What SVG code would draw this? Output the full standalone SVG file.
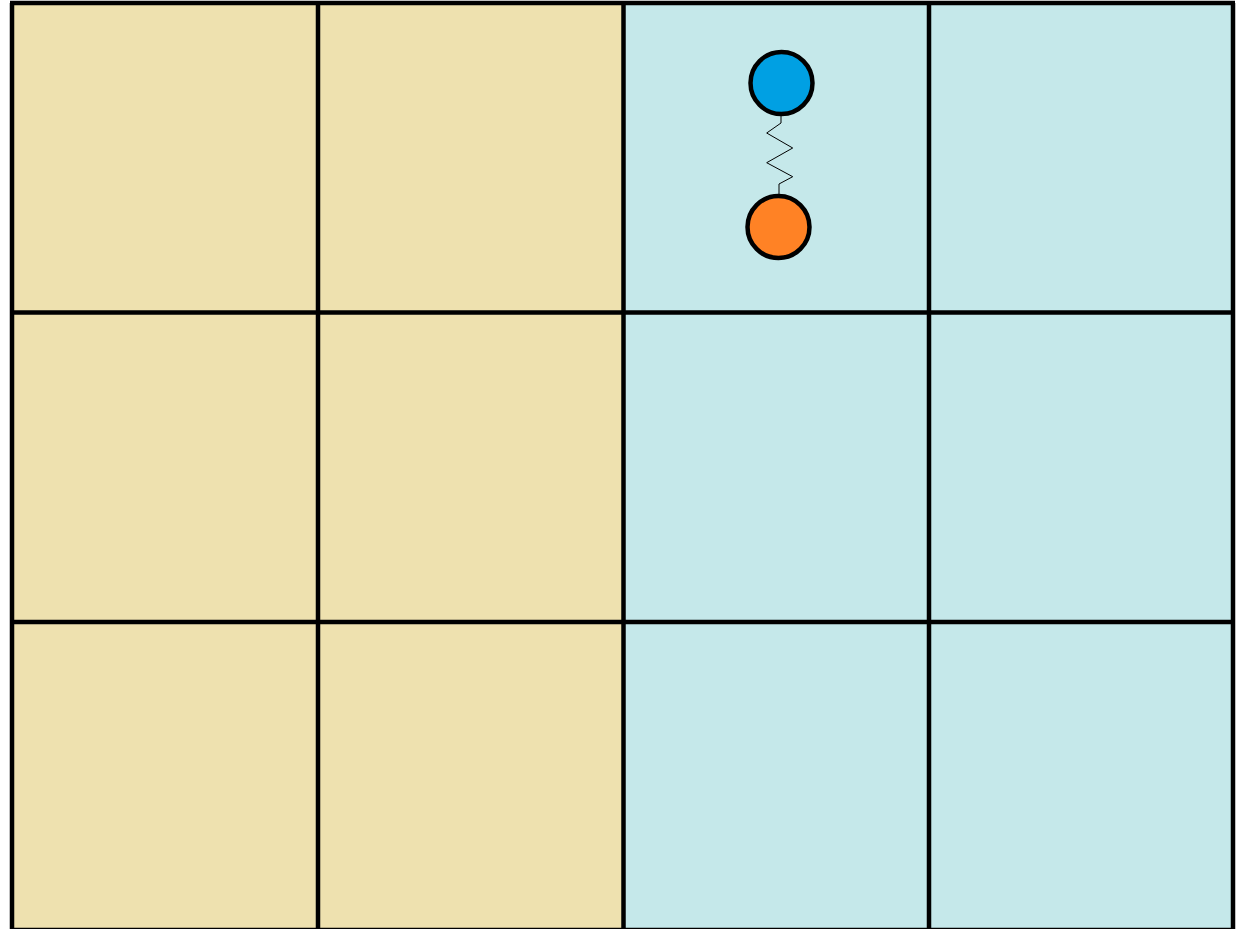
<svg xmlns="http://www.w3.org/2000/svg" width="1253" height="929" viewBox="0 0 1253 929">
  <style>
    .tan { fill: #EEE1AF; }
    .blue { fill: #C5E8EA; }
    .grid { stroke: #000; stroke-width: 4.5; fill: none; }
    .ball { stroke: #000; stroke-width: 4.5; }
    .spring { stroke: #000; stroke-width: 1; fill: none; }
  </style>
  <rect width="1253" height="929" fill="#fff"/>
  <g id="background">
    <rect class="tan" x="12" y="3" width="611.5" height="930"/>
    <rect class="blue" x="623.5" y="3" width="609.5" height="930"/>
  </g>
  <g id="grid" class="grid">
    <line x1="12" y1="3" x2="12" y2="935"/>
    <line x1="318" y1="3" x2="318" y2="935"/>
    <line x1="623.5" y1="3" x2="623.5" y2="935"/>
    <line x1="929" y1="3" x2="929" y2="935"/>
    <line x1="1233" y1="3" x2="1233" y2="935"/>
    <line x1="10" y1="3" x2="1235" y2="3"/>
    <line x1="10" y1="312.5" x2="1235" y2="312.5"/>
    <line x1="10" y1="622" x2="1235" y2="622"/>
    <line x1="10" y1="930" x2="1235" y2="930"/>
  </g>
  <g id="connectors">
    <polyline class="spring" points="781,114 781,123 766.7,133 792.7,148 766.7,162.7 792.7,176.7 779,184 779,197"/>
  </g>
  <g id="blue-ball">
    <circle class="ball" cx="781.5" cy="83" r="31" fill="#00A0E3"/>
  </g>
  <g id="orange-ball">
    <circle class="ball" cx="778.5" cy="227" r="31" fill="#FF8225"/>
  </g>
</svg>
